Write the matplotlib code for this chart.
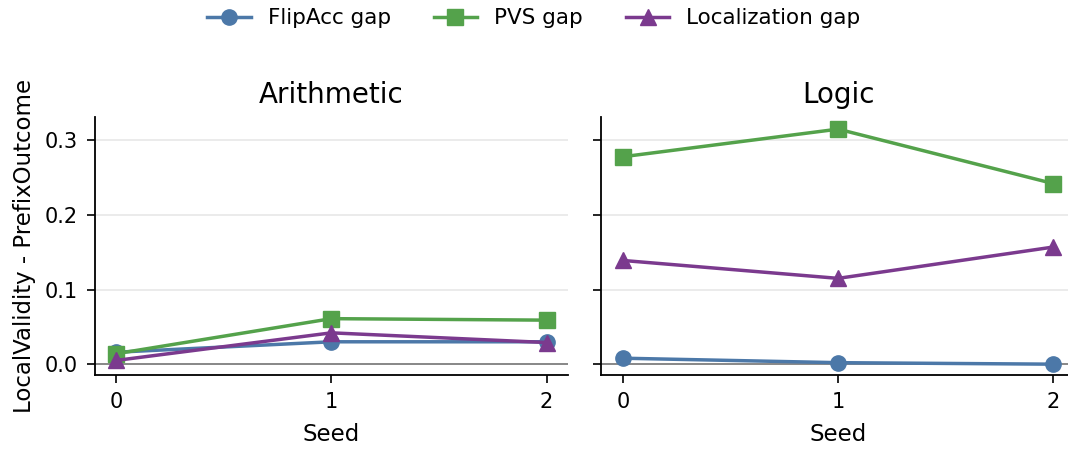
import matplotlib
matplotlib.use("Agg")
import matplotlib.pyplot as plt

seeds = [0, 1, 2]
panels = ["Arithmetic", "Logic"]
flipacc_gap = {"Arithmetic": [0.016, 0.030, 0.030], "Logic": [0.008, 0.002, 0.000]}
pvs_gap = {"Arithmetic": [0.014, 0.061, 0.059], "Logic": [0.278, 0.315, 0.242]}
loc_gap = {"Arithmetic": [0.005, 0.042, 0.029], "Logic": [0.139, 0.115, 0.157]}

series = [
    ("FlipAcc gap", flipacc_gap, "#4C78A8", "o"),
    ("PVS gap", pvs_gap, "#54A24B", "s"),
    ("Localization gap", loc_gap, "#7B3A8E", "^"),
]

fig, axes = plt.subplots(1, 2, figsize=(10.68, 4.49), dpi=100, sharey=True)
fig.subplots_adjust(left=0.0885, right=1.0065, top=0.739, bottom=0.164, wspace=0.07)

for ax, p in zip(axes, panels):
    ax.axhline(0, color="#888888", lw=1.4, zorder=1)
    for name, d, c, m in series:
        ax.plot(seeds, d[p], color=c, marker=m, markersize=11, lw=2.5, label=name, zorder=3)
    ax.set_title(p, fontsize=20, pad=10)
    ax.set_xlabel("Seed", fontsize=16.5, labelpad=8)
    ax.set_xticks(seeds)
    ax.grid(axis="y", color="#e6e6e6", lw=1.1)
    ax.set_axisbelow(True)
    for s in ["top", "right"]:
        ax.spines[s].set_visible(False)
    ax.spines["left"].set_linewidth(1.3)
    ax.spines["bottom"].set_linewidth(1.3)
    ax.tick_params(labelsize=15, length=6, width=1.2, pad=6)

axes[0].set_ylim(-0.015, 0.331)
axes[0].set_yticks([0.0, 0.1, 0.2, 0.3])
axes[0].set_ylabel("LocalValidity - PrefixOutcome", fontsize=16.5, labelpad=6)

h, l = axes[0].get_legend_handles_labels()
fig.legend(h, l, loc="upper center", ncol=3, frameon=False, fontsize=15.5,
           bbox_to_anchor=(0.5, 1.025), columnspacing=2.0)

fig.savefig("out.png", dpi=100)
